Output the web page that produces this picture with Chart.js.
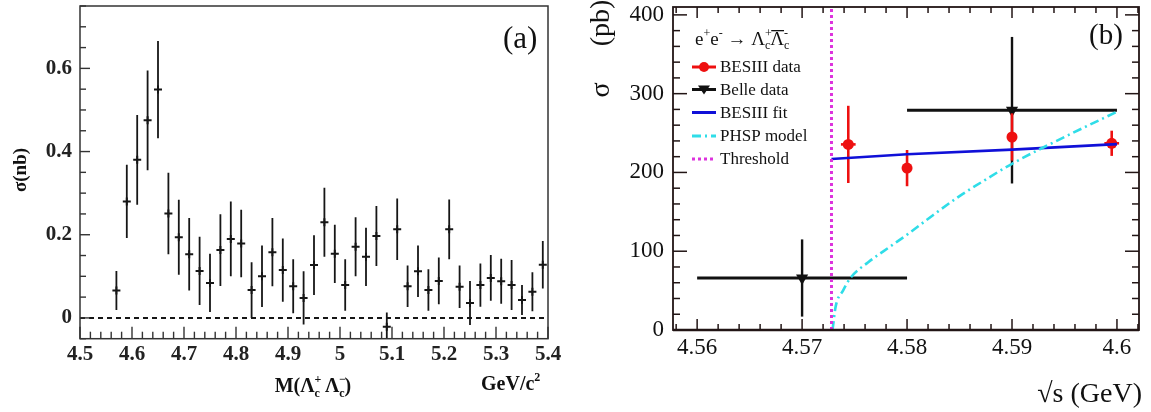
<!DOCTYPE html>
<html><head><meta charset="utf-8">
<script src="https://cdn.jsdelivr.net/npm/chart.js@4.4.1/dist/chart.umd.min.js"></script>
<style>
html,body{margin:0;padding:0;background:#fff;width:1151px;height:412px;overflow:hidden}
canvas{position:absolute;top:0}
#ca{left:0}
#cb{left:580px}
</style></head><body>
<canvas id="ca" width="580" height="412"></canvas>
<canvas id="cb" width="571" height="412"></canvas>
<script>
// ---------- Panel (a): sigma(nb) vs M(Lc+ Lc-) ----------
const massBins = [4.57,4.59,4.61,4.63,4.65,4.67,4.69,4.71,4.73,4.75,4.77,4.79,4.81,4.83,4.85,4.87,4.89,4.91,4.93,4.95,4.97,4.99,5.01,5.03,5.05,5.07,5.09,5.11,5.13,5.15,5.17,5.19,5.21,5.23,5.25,5.27,5.29,5.31,5.33,5.35,5.37,5.39];
const sigmaNb = [0.066,0.280,0.380,0.475,0.549,0.251,0.194,0.153,0.113,0.084,0.163,0.190,0.179,0.067,0.100,0.158,0.115,0.076,0.048,0.127,0.230,0.154,0.079,0.171,0.147,0.197,-0.021,0.213,0.076,0.112,0.067,0.089,0.213,0.075,0.036,0.079,0.096,0.088,0.079,0.043,0.063,0.128];
const sigmaNbErr = [0.047,0.088,0.108,0.120,0.117,0.098,0.090,0.087,0.082,0.070,0.086,0.090,0.081,0.067,0.074,0.082,0.076,0.065,0.064,0.072,0.083,0.070,0.062,0.071,0.070,0.072,0.034,0.074,0.050,0.062,0.050,0.056,0.072,0.051,0.053,0.052,0.055,0.054,0.060,0.036,0.047,0.057];
const zeroLevel = 0;
const xRangeA = [4.5, 5.4];
const yRangeA = [-0.05, 0.75];
const xTicksA = [4.5,4.6,4.7,4.8,4.9,5.0,5.1,5.2,5.3,5.4];
const yTicksA = [0,0.2,0.4,0.6];

// ---------- Panel (b): sigma(pb) vs sqrt(s) ----------
const besEnergy = [4.5744, 4.5800, 4.5900, 4.5995];
const besSigma  = [235.6, 205.5, 245.0, 237.0];
const besErr    = [49, 23, 30, 16];
const besXErr   = [0.0007, 0, 0, 0.0007];
const belleEnergy = [4.57, 4.59];
const belleSigma  = [66, 279];
const belleErr    = [49, 93];
const belleXErr   = [0.01, 0.01];
const fitEnergy = [4.5728, 4.58, 4.59, 4.60];
const fitSigma  = [217, 223, 229, 236];
const phspEnergy = [4.5729,4.5732,4.5739,4.5746,4.5763,4.5784,4.5801,4.5825,4.5850,4.5875,4.5900,4.5950,4.6000];
const phspSigma  = [0,30,50,66,86,106,122,146,170,191,211,245,277];
const thresholdEnergy = 4.5728;
const xRangeB = [4.5577, 4.6021];
const yRangeB = [0, 410];
const xTicksB = [4.56,4.57,4.58,4.59,4.60];
const yTicksB = [0,100,200,300,400];
const legendLabels = ['BESIII data','Belle data','BESIII fit','PHSP model','Threshold'];

const SERIF = '"Liberation Serif","Times New Roman",Times,serif';

// ---------- plugins ----------
function seg(ctx,x1,y1,x2,y2){ctx.beginPath();ctx.moveTo(x1,y1);ctx.lineTo(x2,y2);ctx.stroke();}

const errorBars = {
  id:'errorBars',
  beforeDatasetDraw(chart, args){
    const ds = chart.data.datasets[args.index];
    if(!ds.yErr && !ds.xErr) return;
    const {ctx, chartArea:a, scales:{x,y}} = chart;
    ctx.save();
    ctx.beginPath(); ctx.rect(a.left,a.top,a.right-a.left,a.bottom-a.top); ctx.clip();
    ctx.strokeStyle = ds.errColor; ctx.lineCap='butt';
    ds.data.forEach((p,i)=>{
      const px = x.getPixelForValue(p.x), py = y.getPixelForValue(p.y);
      if(ds.xErr){ const xe = ds.xErr[i]; if(xe){ ctx.lineWidth = ds.xErrWidth||ds.errWidth;
        seg(ctx, x.getPixelForValue(p.x-xe), py, x.getPixelForValue(p.x+xe), py);} }
      if(ds.yErr){ const e = ds.yErr[i]; ctx.lineWidth = ds.errWidth;
        seg(ctx, px, y.getPixelForValue(p.y-e), px, y.getPixelForValue(p.y+e)); }
    });
    ctx.restore();
  }
};

function stepValues(min,max,step){
  const out=[]; for(let k=Math.ceil(min/step-1e-6); k*step<=max+1e-9; k++) out.push(k*step); return out;
}
function isMult(v,m){ const r=v/m; return Math.abs(r-Math.round(r))<1e-6; }

const frameTicks = {
  id:'frameTicks',
  afterDatasetsDraw(chart, args, o){
    const {ctx, chartArea:a, scales:{x,y}} = chart;
    ctx.save();
    ctx.strokeStyle=o.color; ctx.lineCap='butt';
    ctx.lineWidth=o.tlw;
    for(const v of stepValues(x.min,x.max,o.xMinor)){
      const p = x.getPixelForValue(v), maj = isMult(v,o.xMajor);
      const L = maj?o.xMaj:o.xMin;
      seg(ctx,p,a.bottom,p,a.bottom-L);
      if(o.top) seg(ctx,p,a.top,p,a.top+L);
    }
    for(const v of stepValues(y.min,y.max,o.yMinor)){
      const p = y.getPixelForValue(v), maj = isMult(v,o.yMajor);
      const L = maj?o.yMaj:o.yMin;
      seg(ctx,a.left,p,a.left+L,p);
      if(o.right) seg(ctx,a.right,p,a.right-L,p);
    }
    ctx.lineWidth=o.lw;
    ctx.strokeRect(a.left,a.top,a.right-a.left,a.bottom-a.top);
    if(o.bottomLw){ ctx.lineWidth=o.bottomLw; seg(ctx,a.left,a.bottom,a.right,a.bottom); }
    ctx.restore();
  }
};

function drawRuns(ctx, x, y, runs){
  for(const r of runs){
    ctx.font = r.f;
    const w = ctx.measureText(r.t).width;
    ctx.fillText(r.t, x, y+(r.dy||0));
    if(r.over){ ctx.fillRect(x+1, y-r.over, w-1, 1.3); }
    if(r.adv!==false) x += w;
  }
  return x;
}
function runsWidth(ctx, runs){
  let w=0; for(const r of runs){ ctx.font=r.f; const m=ctx.measureText(r.t).width; if(r.adv!==false) w+=m; } return w;
}

const textA = {
  id:'textA',
  afterDraw(chart){
    const ctx = chart.ctx;
    ctx.save();
    ctx.fillStyle='#111'; ctx.textBaseline='alphabetic'; ctx.textAlign='left';
    ctx.font = `31px ${SERIF}`; ctx.fillText('(a)', 503, 48);
    // y title
    ctx.save(); ctx.translate(21,170); ctx.rotate(-Math.PI/2);
    ctx.font = `bold 19px ${SERIF}`; ctx.textAlign='center'; ctx.textBaseline='middle';
    ctx.fillText('σ(nb)',0,0); ctx.restore();
    // x title
    const B=`bold 20px ${SERIF}`, S=`bold 12px ${SERIF}`;
    const runs=[{t:'M(Λ',f:B},{t:'+',f:S,dy:-9,adv:false},{t:'c',f:S,dy:5},{t:' Λ',f:B},{t:'−',f:S,dy:-9,adv:false},{t:'c',f:S,dy:5},{t:')',f:B}];
    const w = runsWidth(ctx,runs);
    drawRuns(ctx, 313-w/2, 392, runs);
    drawRuns(ctx, 481, 390, [{t:'GeV/c',f:B},{t:'2',f:S,dy:-9}]);
    ctx.restore();
  }
};

const textB = {
  id:'textB',
  afterDraw(chart){
    const ctx = chart.ctx;
    const ds = chart.data.datasets;
    ctx.save();
    ctx.fillStyle='#111'; ctx.textBaseline='alphabetic'; ctx.textAlign='left';
    ctx.font = `29px ${SERIF}`; ctx.fillText('(b)', 509, 44);
    // y title (rotated)
    ctx.save(); ctx.translate(22,0); ctx.rotate(-Math.PI/2);
    ctx.font = `28px ${SERIF}`; ctx.textAlign='center'; ctx.textBaseline='middle';
    ctx.fillText('σ',-90,0); ctx.fillText('(pb)',-23,0); ctx.restore();
    // x title
    ctx.font = `28px ${SERIF}`; ctx.textAlign='right';
    ctx.fillText('√s (GeV)', 562, 402);
    ctx.textAlign='left';
    // legend title
    const N=`17px ${SERIF}`, T=`19px ${SERIF}`, s=`12px ${SERIF}`;
    drawRuns(ctx, 115, 45, [{t:'e',f:T},{t:'+',f:s,dy:-8},{t:'e',f:T},{t:'-',f:s,dy:-8},{t:' → ',f:T},
      {t:'Λ',f:T},{t:'+',f:s,dy:-8,adv:false},{t:'c',f:s,dy:4},{t:'Λ',f:T,over:15},{t:'-',f:s,dy:-8,adv:false},{t:'c',f:s,dy:4}]);
    // legend entries
    const order=[3,4,2,1,0], ys=[67,89.5,112.5,136,159];
    order.forEach((di,k)=>{
      const d = ds[di], yy = ys[k];
      ctx.save();
      ctx.strokeStyle = d.borderColor; ctx.lineWidth = 3;
      ctx.setLineDash(d.borderDash||[]);
      seg(ctx,112,yy,136,yy);
      ctx.setLineDash([]);
      if(d.pointStyle==='circle' && d.pointRadius>0){
        ctx.fillStyle=d.backgroundColor; ctx.beginPath(); ctx.arc(124,yy,5,0,Math.PI*2); ctx.fill();
      } else if(d.pointStyle==='triangle' && d.pointRadius>0){
        ctx.fillStyle=d.backgroundColor; ctx.beginPath(); ctx.moveTo(118,yy-4); ctx.lineTo(130,yy-4); ctx.lineTo(124,yy+5); ctx.closePath(); ctx.fill();
      }
      ctx.restore();
      ctx.font=N; ctx.textBaseline='middle'; ctx.fillStyle='#111';
      ctx.fillText(d.label, 140, yy+1);
    });
    ctx.restore();
  }
};

function pts(xs,ys){ return xs.map((x,i)=>({x, y:ys[i]})); }
function fixY(w){ return s=>{ s.width=w; s.paddingTop=0; s.paddingBottom=0; }; }

// ---------- Chart (a) ----------
new Chart(document.getElementById('ca'), {
  type:'scatter',
  data:{datasets:[
    {label:'data', data:pts(massBins,sigmaNb), pointStyle:'cross', pointRadius:4, borderColor:'#161616', borderWidth:2,
     yErr:sigmaNbErr, errColor:'#161616', errWidth:1.8},
    {label:'zero', data:[{x:xRangeA[0],y:zeroLevel},{x:xRangeA[1],y:zeroLevel}], showLine:true, pointRadius:0,
     borderColor:'#161616', borderWidth:2, borderDash:[5,4]}
  ]},
  options:{
    responsive:false, animation:false, devicePixelRatio:1,
    layout:{padding:{top:1.5,right:32,left:0,bottom:0}},
    plugins:{legend:{display:false}, tooltip:{enabled:false},
      frameTicks:{color:'#333',lw:1.5,tlw:1.4,xMinor:0.02,xMajor:0.1,xMaj:12,xMin:7,yMinor:0.05,yMajor:0.2,yMaj:10,yMin:6,top:false,right:false}},
    scales:{
      x:{type:'linear', min:xRangeA[0], max:xRangeA[1],
         grid:{display:false,drawTicks:false}, border:{display:false},
         afterFit:s=>{s.height=73.3},
         afterBuildTicks:s=>{s.ticks=xTicksA.map(v=>({value:v}))},
         ticks:{autoSkip:false,maxRotation:0,padding:3,color:'#222',font:{family:SERIF,size:21,weight:'bold'},
           callback:v=>String(Math.round(v*100)/100)}},
      y:{type:'linear', min:yRangeA[0], max:yRangeA[1],
         grid:{display:false,drawTicks:false}, border:{display:false},
         afterFit:fixY(80),
         afterBuildTicks:s=>{s.ticks=yTicksA.map(v=>({value:v}))},
         ticks:{autoSkip:false,padding:8,color:'#222',font:{family:SERIF,size:21,weight:'bold',lineHeight:0.01},
           callback:v=>String(Math.round(v*100)/100)}}
    }
  },
  plugins:[errorBars, frameTicks, textA]
});

// ---------- Chart (b) ----------
new Chart(document.getElementById('cb'), {
  type:'scatter',
  data:{datasets:[
    {label:legendLabels[4], data:[{x:thresholdEnergy,y:yRangeB[0]},{x:thresholdEnergy,y:yRangeB[1]}], showLine:true,
     pointRadius:0, borderColor:'#dd33dd', borderWidth:3, borderDash:[3,3]},
    {label:legendLabels[3], data:pts(phspEnergy,phspSigma), showLine:true, pointRadius:0, borderColor:'#2fdde8',
     borderWidth:2.6, borderDash:[9,4,2,4], cubicInterpolationMode:'monotone'},
    {label:legendLabels[2], data:pts(fitEnergy,fitSigma), showLine:true, pointRadius:0, borderColor:'#1010d8', borderWidth:2.6},
    {label:legendLabels[0], data:pts(besEnergy,besSigma), pointStyle:'circle', pointRadius:5.5, backgroundColor:'#ee1010',
     borderColor:'#ee1010', borderWidth:0, yErr:besErr, xErr:besXErr, errColor:'#ee1010', errWidth:2.6},
    {label:legendLabels[1], data:pts(belleEnergy,belleSigma), pointStyle:'triangle', pointRotation:180, pointRadius:7,
     backgroundColor:'#111', borderColor:'#111', borderWidth:0, yErr:belleErr, xErr:belleXErr, errColor:'#111',
     errWidth:2.4, xErrWidth:3}
  ]},
  options:{
    responsive:false, animation:false, devicePixelRatio:1,
    layout:{padding:{top:0,right:12,left:0,bottom:0}},
    plugins:{legend:{display:false}, tooltip:{enabled:false},
      frameTicks:{color:'#221515',lw:1.8,tlw:1.5,bottomLw:2.6,xMinor:0.002,xMajor:0.01,xMaj:11,xMin:6,yMinor:20,yMajor:100,yMaj:14,yMin:7,top:true,right:true}},
    scales:{
      x:{type:'linear', min:xRangeB[0], max:xRangeB[1],
         grid:{display:false,drawTicks:false}, border:{display:false},
         afterFit:s=>{s.height=82},
         afterBuildTicks:s=>{s.ticks=xTicksB.map(v=>({value:v}))},
         ticks:{autoSkip:false,maxRotation:0,padding:4,color:'#111',font:{family:SERIF,size:23},
           callback:v=>String(Math.round(v*1000)/1000)}},
      y:{type:'linear', min:yRangeB[0], max:yRangeB[1],
         grid:{display:false,drawTicks:false}, border:{display:false},
         afterFit:fixY(93),
         afterBuildTicks:s=>{s.ticks=yTicksB.map(v=>({value:v}))},
         ticks:{autoSkip:false,padding:9,color:'#111',font:{family:SERIF,size:23,lineHeight:0.01},
           callback:v=>String(v)}}
    }
  },
  plugins:[errorBars, frameTicks, textB]
});
</script>
</body></html>
